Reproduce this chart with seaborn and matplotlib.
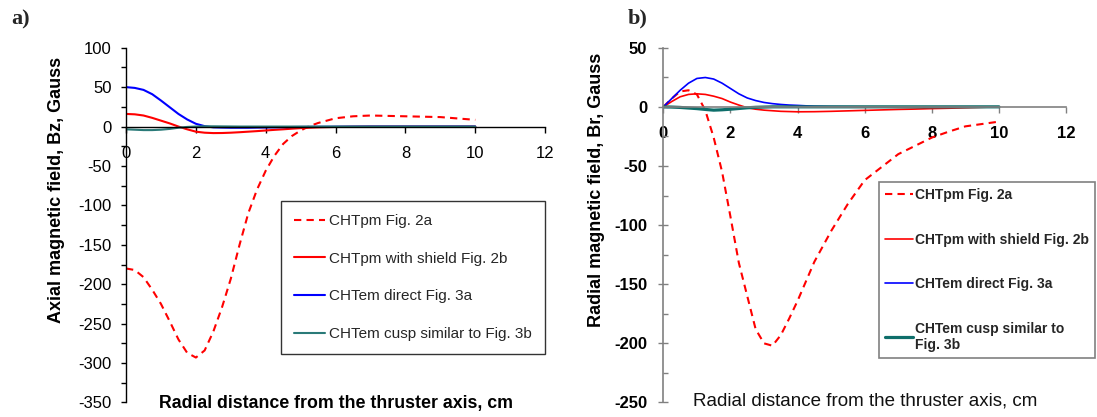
import matplotlib
matplotlib.use("Agg")
import matplotlib.pyplot as plt
import seaborn as sns
from matplotlib.ticker import MultipleLocator

# ---------------- Panel a) Axial magnetic field Bz (Gauss) ----------------
r_a = [0, 0.25, 0.5, 0.75, 1, 1.25, 1.5, 1.75, 2, 2.25, 2.5, 2.75, 3, 3.25,
       3.5, 3.75, 4, 4.25, 4.5, 4.75, 5, 5.25, 5.5, 6, 6.5, 7, 8, 9, 10]
bz_pm = [-180, -182, -191, -207, -225, -247, -270, -287, -293, -284, -260,
         -229, -193, -150, -110, -80, -56, -37, -22, -12, -5, 0.5, 4.5, 10.5,
         13, 14, 13, 12, 8.5]
bz_shield = [16, 15.5, 14, 11, 7.5, 4, 0, -3.5, -6.5, -7.8, -8.3, -8.2, -7.8,
             -7.2, -6.5, -5.8, -5, -4.2, -3.5, -2.7, -2, -1.5, -1, -0.5, -0.2,
             0, 0, 0, 0]
bz_direct = [50, 49, 46.5, 41, 33, 24.5, 16, 9, 3.5, 0.5, -1, -1.3, -1.5, -1.5,
             -1.5, -1.3, -1.2, -1, -0.8, -0.6, -0.5, -0.4, -0.3, -0.2, -0.1,
             0, 0, 0, 0]
bz_cusp = [-3.5, -4, -4.5, -4.5, -4, -3, -1.5, -0.5, 0, 0.3, 0.3, 0.2, 0.1,
           0, 0, 0, 0, 0, 0, 0, 0, 0, 0, 0, 0, 0, 0, 0, 0]

# ---------------- Panel b) Radial magnetic field Br (Gauss) ----------------
r_b = [0, 0.25, 0.5, 0.75, 1, 1.25, 1.5, 1.75, 2, 2.25, 2.5, 2.75, 3, 3.25,
       3.5, 3.75, 4, 4.5, 5, 5.5, 6, 6.5, 7, 7.5, 8, 8.5, 9, 9.5, 10]
br_pm = [0, 7, 13, 14, 10.5, -3, -26, -55, -93, -132, -160, -188, -200, -202,
         -193, -179, -164, -131, -105, -82, -62, -51, -40, -33, -26, -21,
         -16.5, -14.5, -12.5]
br_shield = [0, 4.5, 8.5, 10.5, 11, 10.5, 9, 7, 4, 1.5, -0.8, -2, -2.8, -3.3,
             -3.8, -4, -4.2, -4.1, -3.8, -3.4, -3, -2.6, -2.2, -1.9, -1.5,
             -1.2, -0.8, -0.4, 0]
br_direct = [0, 7, 14, 20, 24, 24.8, 23.5, 20, 15.5, 11, 7.5, 5.3, 3.7, 2.7,
             2, 1.5, 1.2, 0.5, 0.2, 0.1, 0, 0, 0, 0, 0, 0, 0, 0, 0]
br_cusp = [0, -0.2, -0.5, -1, -1.5, -2.2, -2.8, -2.5, -2, -1.4, -0.8, -0.4,
           -0.2, 0, 0, 0, 0, 0, 0, 0, 0, 0, 0, 0, 0, 0, 0, 0, 0]

labels_a = ["CHTpm Fig. 2a", "CHTpm with shield Fig. 2b",
            "CHTem direct Fig. 3a", "CHTem cusp similar to Fig. 3b"]
labels_b = ["CHTpm Fig. 2a", "CHTpm with shield Fig. 2b",
            "CHTem direct Fig. 3a", "CHTem cusp similar to\nFig. 3b"]
xlabel = "Radial distance from the thruster axis, cm"

sns.set_theme(style="white")
plt.rcParams["font.family"] = ["Liberation Sans", "DejaVu Sans"]
plt.rcParams["axes.unicode_minus"] = False

RED, BLUE, TEAL = "#ff0000", "#0000ff", "#0e6e6a"

fig = plt.figure(figsize=(10.97, 4.17), dpi=100)
fig.patch.set_facecolor("white")
axA = fig.add_axes([0.1149, 0.0348, 0.3820, 0.8508])
axB = fig.add_axes([0.6047, 0.0348, 0.3671, 0.8508])

# ---- panel a lines
sns.lineplot(x=r_a, y=bz_pm, ax=axA, color=RED, lw=1.5, label=labels_a[0])
sns.lineplot(x=r_a, y=bz_shield, ax=axA, color=RED, lw=1.5, label=labels_a[1])
sns.lineplot(x=r_a, y=bz_direct, ax=axA, color=BLUE, lw=1.5, label=labels_a[2])
sns.lineplot(x=r_a, y=bz_cusp, ax=axA, color="#2a7a78", lw=1.5, label=labels_a[3])
axA.lines[0].set_dashes([3.5, 2.5])

# ---- panel b lines
sns.lineplot(x=r_b, y=br_pm, ax=axB, color=RED, lw=1.5, label=labels_b[0])
sns.lineplot(x=r_b, y=br_shield, ax=axB, color=RED, lw=1.2, label=labels_b[1])
sns.lineplot(x=r_b, y=br_direct, ax=axB, color=BLUE, lw=1.2, label=labels_b[2])
sns.lineplot(x=r_b, y=br_cusp, ax=axB, color=TEAL, lw=2.3, label=labels_b[3])
axB.lines[0].set_dashes([3.5, 2.5])

# ---- axes styling, panel a
axA.set_xlim(0, 12)
axA.set_ylim(-350, 100)
axA.xaxis.set_major_locator(MultipleLocator(2))
axA.yaxis.set_major_locator(MultipleLocator(50))
axA.yaxis.set_minor_locator(MultipleLocator(25))
for s in ("top", "right"):
    axA.spines[s].set_visible(False)
axA.spines["bottom"].set_position(("data", 0))
for s in ("bottom", "left"):
    axA.spines[s].set_color("black")
    axA.spines[s].set_linewidth(1.0)
axA.tick_params(axis="x", which="major", direction="out", length=4, width=1,
                pad=10, labelsize=12, colors="black", bottom=True)
axA.tick_params(axis="y", which="both", direction="out", length=3.5, width=1,
                pad=7, labelsize=12, colors="black", left=True)
axA.set_xlabel(xlabel, fontsize=12.8, fontweight="bold", color="black")
axA.xaxis.set_label_coords(0.5, 0.022)
axA.set_ylabel("Axial magnetic field, Bz, Gauss", fontsize=13,
               fontweight="bold", color="black")
axA.yaxis.set_label_coords(-0.165, 0.60)
axA.yaxis.label.set_verticalalignment("center")

legA = axA.legend(loc="upper right", bbox_to_anchor=(1.0, 0.568),
                  borderaxespad=0, fontsize=11, frameon=True, fancybox=False,
                  edgecolor="#333333", framealpha=1, labelspacing=1.55,
                  handlelength=2.0, handletextpad=0.3, borderpad=0.85)
legA.get_frame().set_linewidth(1.0)

# ---- axes styling, panel b
GRAY = "#808080"
axB.set_xlim(0, 12)
axB.set_ylim(-250, 50)
axB.xaxis.set_major_locator(MultipleLocator(2))
axB.yaxis.set_major_locator(MultipleLocator(50))
axB.yaxis.set_minor_locator(MultipleLocator(25))
for s in ("top", "right"):
    axB.spines[s].set_visible(False)
axB.spines["bottom"].set_position(("data", 0))
for s in ("bottom", "left"):
    axB.spines[s].set_color(GRAY)
    axB.spines[s].set_linewidth(1.2)
axB.tick_params(axis="x", which="major", direction="out", length=4, width=1,
                pad=10, labelsize=12, color=GRAY, labelcolor="black", bottom=True)
axB.tick_params(axis="y", which="major", direction="inout", length=7, width=1,
                pad=8, labelsize=12, color=GRAY, labelcolor="black", left=True)
axB.tick_params(axis="y", which="minor", direction="in", length=3.5, width=1,
                color=GRAY, left=True)
for t in axB.get_xticklabels() + axB.get_yticklabels():
    t.set_fontweight("bold")
axB.set_xlabel(xlabel, fontsize=13.5, color="#111111")
axB.xaxis.set_label_coords(0.5, 0.028)
axB.set_ylabel("Radial magnetic field, Br, Gauss", fontsize=13,
               fontweight="bold", color="black")
axB.yaxis.set_label_coords(-0.165, 0.60)
axB.yaxis.label.set_verticalalignment("center")

legB = axB.legend(loc="upper left", bbox_to_anchor=(0.536, 0.622),
                  borderaxespad=0, frameon=True, fancybox=False,
                  edgecolor=GRAY, framealpha=1, labelspacing=2.2,
                  handlelength=2.0, handletextpad=0.1, borderpad=0.45,
                  prop={"size": 10, "weight": "bold"})
legB.get_frame().set_linewidth(1.2)

# ---- panel tags
fig.text(11 / 1097, 1 - 19 / 417, "a)", fontsize=16, fontweight="bold",
         family=["Liberation Serif", "DejaVu Serif"], ha="left", va="center")
fig.text(628 / 1097, 1 - 18 / 417, "b)", fontsize=16, fontweight="bold",
         family=["Liberation Serif", "DejaVu Serif"], ha="left", va="center")

fig.savefig("out.png", dpi=100, facecolor="white")
